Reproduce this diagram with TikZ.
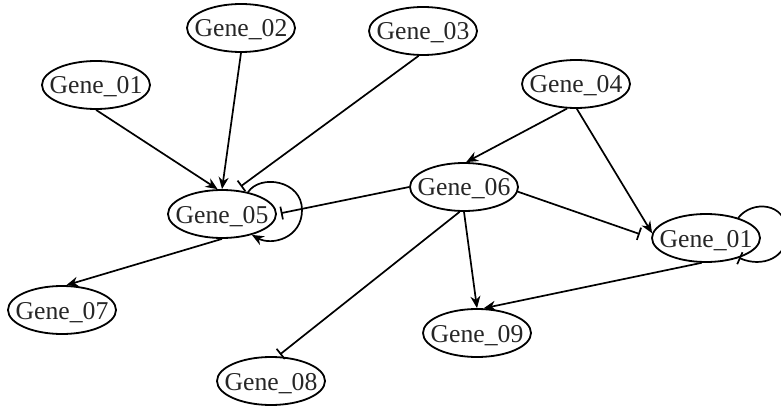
\documentclass[tikz,border=0pt]{standalone}
\usepackage{fontspec}
\setmainfont{Liberation Serif}
\usetikzlibrary{shapes.geometric,arrows.meta}
\begin{document}
\begin{tikzpicture}[x=1pt,y=-1pt,
  gene/.style={ellipse,draw,line width=1.8pt,minimum width=108pt,minimum height=48pt,
    inner sep=0pt,text height=20pt,text depth=2pt,
    font=\fontsize{25.7}{28}\selectfont,text=black!85},
  act/.style={line width=1.7pt,-{Stealth[length=12pt,width=10pt]}},
  inh/.style={line width=1.7pt,-{Bar[width=13pt,line width=1.7pt]}},
]
\useasboundingbox (0,0) rectangle (781,406);

% genes
\node[gene] (g01a) at (96,85)  {\makebox[0pt]{Gene\_01}};
\node[gene] (g02)  at (241,28) {\makebox[0pt]{Gene\_02}};
\node[gene] (g03)  at (423,31) {\makebox[0pt]{Gene\_03}};
\node[gene] (g04)  at (576,84) {\makebox[0pt]{Gene\_04}};
\node[gene] (g06)  at (464,187) {\makebox[0pt]{Gene\_06}};
\node[gene] (g05)  at (222,214) {\makebox[0pt]{Gene\_05}};
\node[gene] (g01b) at (706,238) {\makebox[0pt]{Gene\_01}};
\node[gene] (g07)  at (62,310) {\makebox[0pt]{Gene\_07}};
\node[gene] (g09)  at (477,333) {\makebox[0pt]{Gene\_09}};
\node[gene] (g08)  at (271,381) {\makebox[0pt]{Gene\_08}};

% activations
\draw[act] (g01a.south) -- (g05.100);
\draw[act] (g02.south) -- (g05.north);
\draw[act] (g05.south) -- (g07.80);
\draw[act] (g04.-110) -- (g06.85);
\draw[act] (g04.-88) -- (g01b.175);
\draw[act] (g06.-90) -- (g09.north);
\draw[act] (g01b.-100) -- (g09.75);
\draw[act] (g05.40) .. controls (260,174) and (302,180) .. (302,210)
  .. controls (302,238) and (272,246) .. (g05.-35);

% inhibitions
\draw[inh,shorten >=6pt] (g03.-100) -- (g05.60);
\draw[inh,shorten >=4pt] (g06.west) -- (g05.east);
\draw[inh,shorten >=12pt] (g06.-5) -- (g01b.west);
\draw[inh,shorten >=3pt] (g06.-100) -- (g08.75);
\draw[inh] (g01b.32) .. controls (752,200) and (786,202) .. (787,232)
  .. controls (788,258) and (762,268) .. (g01b.-31);
\end{tikzpicture}
\end{document}
